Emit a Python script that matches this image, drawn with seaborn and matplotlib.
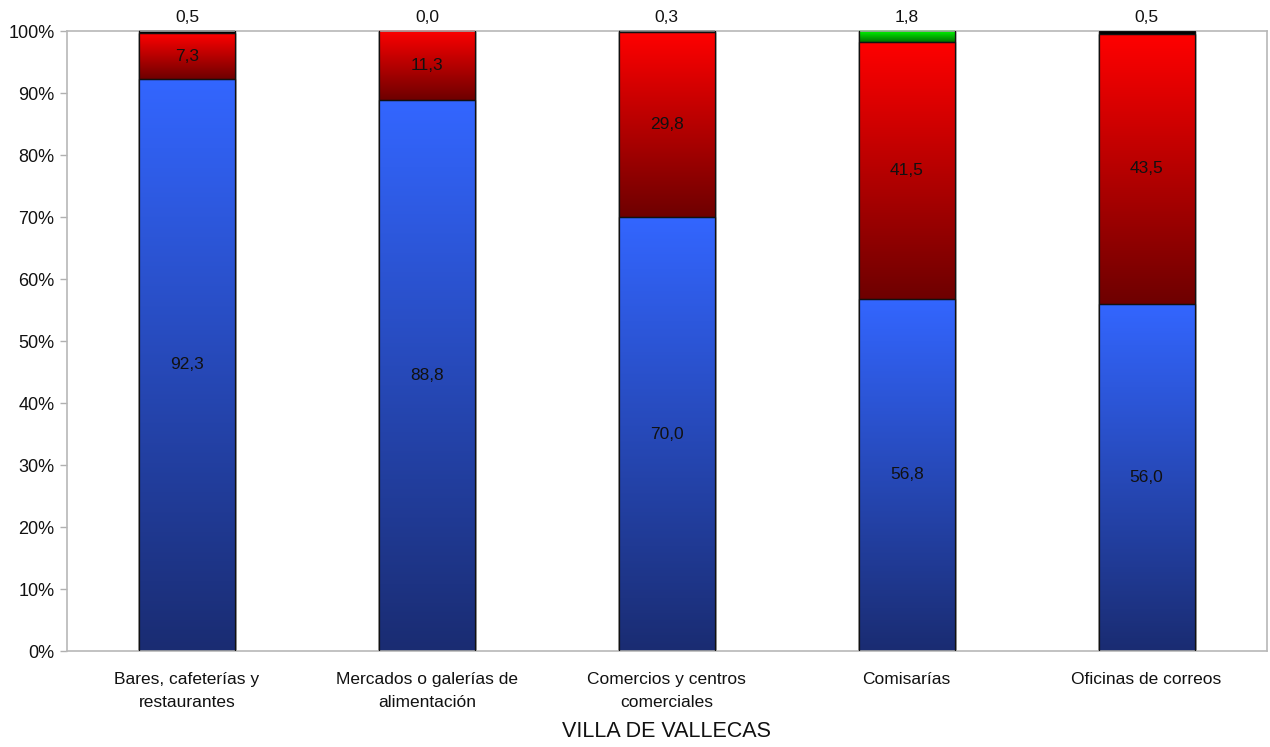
import numpy as np
import pandas as pd
import matplotlib
matplotlib.use("Agg")
import matplotlib.pyplot as plt
import seaborn as sns
from matplotlib.colors import LinearSegmentedColormap

# Data
categorias = ["Bares, cafeterías y\nrestaurantes", "Mercados o galerías de\nalimentación",
              "Comercios y centros\ncomerciales", "Comisarías", "Oficinas de correos"]
azul = [92.3, 88.8, 70.0, 56.8, 56.0]
rojo = [7.3, 11.3, 29.8, 41.5, 43.5]
verde = [0.0, 0.0, 0.0, 1.8, 0.0]
negro = [0.5, 0.0, 0.3, 0.0, 0.5]

sns.set_theme(style="white")
plt.rcParams["font.family"] = ["Liberation Sans", "DejaVu Sans"]

df = pd.DataFrame({"cat": categorias, "azul": azul, "rojo": rojo,
                   "verde": verde, "negro": negro})
series = ["azul", "rojo", "verde", "negro"]
cum = df[series].cumsum(axis=1)

# gradient (top colour, bottom colour) per series
grads = {
    "azul": ("#3366ff", "#1a2c72"),
    "rojo": ("#ff0000", "#6e0000"),
    "verde": ("#00ff00", "#007000"),
    "negro": ("#000000", "#000000"),
}

fig = plt.figure(figsize=(12.7, 7.47), dpi=100)
ax = fig.add_axes([0.0528, 0.1285, 0.9445, 0.83])

# draw cumulative bars, tallest first, so each segment shows
layers = {}
for s in reversed(series):
    n_before = len(ax.patches)
    sns.barplot(data=cum.assign(cat=categorias), x="cat", y=s, color="white",
                width=0.4, edgecolor="#111111", linewidth=0.9, ax=ax, zorder=2)
    layers[s] = ax.patches[n_before:]

# gradient fill each visible segment
for i, s in enumerate(series):
    top_c, bot_c = grads[s]
    cmap = LinearSegmentedColormap.from_list(s, [bot_c, top_c])
    grad = np.linspace(0, 1, 256).reshape(-1, 1)
    for j, p in enumerate(layers[s]):
        hi = cum[s].iloc[j]
        lo = cum[series[i - 1]].iloc[j] if i > 0 else 0.0
        if hi - lo <= 0:
            continue
        x0 = p.get_x()
        w = p.get_width()
        im = ax.imshow(grad, cmap=cmap, aspect="auto", origin="lower",
                       extent=[x0, x0 + w, lo, hi], zorder=2.5)
        im.set_clip_path(p)
        # redraw border of segment
        ax.add_patch(plt.Rectangle((x0, lo), w, hi - lo, fill=False,
                                   edgecolor="#111111", linewidth=0.9, zorder=3))

# value labels
fmt = lambda v: f"{v:.1f}".replace(".", ",")
for j in range(len(categorias)):
    ax.text(j, azul[j] / 2, fmt(azul[j]), ha="center", va="center", fontsize=12.5,
            color="#111111", zorder=4)
    ax.text(j, azul[j] + rojo[j] / 2, fmt(rojo[j]), ha="center", va="center",
            fontsize=12.5, color="#111111", zorder=4)
    top = verde[j] if verde[j] > 0 else negro[j]
    ax.text(j, 101.0, fmt(top), ha="center", va="bottom", fontsize=12.5, zorder=4,
            color="#111111", clip_on=False)

ax.set_ylim(0, 100)
ax.set_xlim(-0.5, len(categorias) - 0.5)
ax.set_yticks(np.arange(0, 101, 10))
ax.set_yticklabels([f"{t}%" for t in range(0, 101, 10)], fontsize=13, color="#111111")
ax.set_xticks(range(len(categorias)))
ax.set_xticklabels(categorias, fontsize=12.5, color="#111111", linespacing=1.7)
ax.set_xticks(np.arange(0.5, len(categorias) - 0.5, 1), minor=True)
ax.tick_params(axis="x", which="major", length=0, pad=15)
ax.tick_params(axis="x", which="minor", length=6, color="#b0b0b0", width=1, direction="out")
ax.tick_params(axis="y", length=5, color="#b0b0b0", width=1, direction="out", left=True, pad=4)
ax.set_ylabel("")
ax.set_xlabel("VILLA DE VALLECAS", fontsize=15.5, labelpad=8, color="#111111")
for sp in ax.spines.values():
    sp.set_color("#b8b8b8")
    sp.set_linewidth(1.2)
ax.grid(False)

fig.savefig("out.png", dpi=100)
